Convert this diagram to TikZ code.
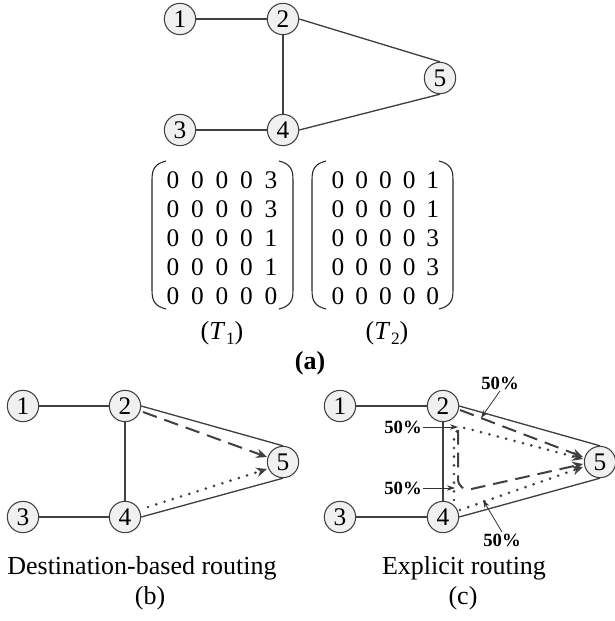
\documentclass[tikz,border=0pt]{standalone}
\usepackage{fontspec}
\setmainfont{Liberation Serif}
\usetikzlibrary{arrows.meta,calc}
\begin{document}
\begin{tikzpicture}[x=0.75pt,y=-0.75pt,
  vtx/.style={circle,draw=black!75,fill=black!6,line width=0.8pt,minimum size=23.5pt,inner sep=0pt,font=\fontsize{19}{19}\selectfont},
  edge/.style={draw=black!75,line width=1pt},
  num/.style={font=\fontsize{19}{19}\selectfont,inner sep=0pt},
  brk/.style={draw=black!85,line width=0.8pt},
  dsh/.style={draw=black!75,line width=1.5pt,dash pattern=on 11pt off 6pt,-{Stealth[length=8pt,width=7pt]}},
  dtt/.style={draw=black!75,line width=2.2pt,line cap=round,dash pattern=on 0pt off 6.5pt,-{Stealth[length=8pt,width=7pt]}},
  pct/.style={font=\fontsize{14}{14}\selectfont\bfseries,inner sep=1pt},
  lbl/.style={font=\fontsize{19.5}{19.5}\selectfont,inner sep=0pt},
  pa/.style={draw=black!80,line width=0.6pt,-{Stealth[length=6pt,width=4pt]}}
]
\useasboundingbox (0,0) rectangle (614,621);
% ---------- (a) ----------
\node[vtx] (a1) at (180,19) {1};
\node[vtx] (a2) at (283,19) {2};
\node[vtx] (a5) at (440,78) {5};
\node[vtx] (a3) at (180,130) {3};
\node[vtx] (a4) at (283,130) {4};
\draw[edge] (a1) -- (a2);
\draw[edge] (a2) -- (a4);
\draw[edge] (a3) -- (a4);
\draw[edge] (a2.east) -- (a5.north);
\draw[edge] (a4.east) -- (a5.south);
% matrices
\foreach \r/\vals in {0/{0,0,0,0,3},1/{0,0,0,0,3},2/{0,0,0,0,1},3/{0,0,0,0,1},4/{0,0,0,0,0}}{
  \foreach \v [count=\c from 0] in \vals {
    \node[num] (tl\r\c) at (173+24.5*\c,180+29*\r) {\v};
  }
}
\foreach \r/\vals in {0/{0,0,0,0,1},1/{0,0,0,0,1},2/{0,0,0,0,3},3/{0,0,0,0,3},4/{0,0,0,0,0}}{
  \foreach \v [count=\c from 0] in \vals {
    \node[num] (tr\r\c) at (338+23.7*\c,180+29*\r) {\v};
  }
}
\draw[brk] (166,161) .. controls (154,164) and (152,170) .. (152,180) -- (152,290) .. controls (152,300) and (154,306) .. (166,309);
\draw[brk] (279,161) .. controls (291,164) and (293,170) .. (293,180) -- (293,290) .. controls (293,300) and (291,306) .. (279,309);
\draw[brk] (326,161) .. controls (314,164) and (312,170) .. (312,180) -- (312,290) .. controls (312,300) and (314,306) .. (326,309);
\draw[brk] (439,161) .. controls (451,164) and (453,170) .. (453,180) -- (453,290) .. controls (453,300) and (451,306) .. (439,309);
\node[lbl] (t1) at (222,333) {(\textit{T}\kern0.5pt\raisebox{-0.2em}{\fontsize{13}{13}\selectfont 1})};
\node[lbl] (t2) at (387,333) {(\textit{T}\kern0.5pt\raisebox{-0.2em}{\fontsize{13}{13}\selectfont 2})};
\node[lbl] (la) at (310,363) {\bfseries(a)};
% ---------- (b) ----------
\node[vtx] (b1) at (23,406) {1};
\node[vtx] (b2) at (125,406) {2};
\node[vtx] (b5) at (283,462) {5};
\node[vtx] (b3) at (23,517) {3};
\node[vtx] (b4) at (125,517) {4};
\draw[edge] (b1) -- (b2);
\draw[edge] (b2) -- (b4);
\draw[edge] (b3) -- (b4);
\draw[edge] (b2.east) -- (b5.north);
\draw[edge] (b4.east) -- (b5.south);
\coordinate (bd1) at (143,412);
\coordinate (bd2) at (267,457);
\coordinate (bt1) at (148,507);
\coordinate (bt2) at (267,469);
\draw[dsh] (bd1) -- (bd2);
\draw[dtt] (bt1) -- (bt2);
\node[lbl] (lb1) at (142,568) {Destination-based routing};
\node[lbl] (lb2) at (150,598) {(b)};
% ---------- (c) ----------
\node[vtx] (c1) at (340,406) {1};
\node[vtx] (c2) at (443,406) {2};
\node[vtx] (c5) at (600,462) {5};
\node[vtx] (c3) at (340,517) {3};
\node[vtx] (c4) at (443,517) {4};
\draw[edge] (c1) -- (c2);
\draw[edge] (c2) -- (c4);
\draw[edge] (c3) -- (c4);
\draw[edge] (c2.east) -- (c5.north);
\draw[edge] (c4.east) -- (c5.south);
% dashed paths from 2
\coordinate (cd1) at (460,410);
\coordinate (cd2) at (583,457);
\draw[dsh] (cd1) -- (cd2);
\coordinate (ce1) at (458,430);
\coordinate (ce2) at (583,464);
\draw[dsh,rounded corners=10pt] (ce1) -- (458,492) -- (ce2);
% dotted paths from 4
\coordinate (cf1) at (454,500);
\coordinate (cf2) at (583,459);
\draw[dtt,rounded corners=10pt] (cf1) -- (454,425) -- (cf2);
\coordinate (cg1) at (460,510);
\coordinate (cg2) at (583,467);
\draw[dtt] (cg1) -- (cg2);
% labels
\node[pct] (p1) at (500,383) {50\%};
\node[pct] (p2) at (403,427) {50\%};
\node[pct] (p3) at (403,488) {50\%};
\node[pct] (p4) at (502,540) {50\%};
\coordinate (q1) at (481,418);
\coordinate (q2) at (458,427);
\coordinate (q3) at (455,488);
\coordinate (q4) at (483,500);
\draw[pa] (p1.south) -- (q1);
\draw[pa] (p2.east) -- (q2);
\draw[pa] (p3.east) -- (q3);
\draw[pa] (p4.north) -- (q4);
\node[lbl] (lc1) at (464,568) {Explicit routing};
\node[lbl] (lc2) at (463,598) {(c)};
\end{tikzpicture}
\end{document}
